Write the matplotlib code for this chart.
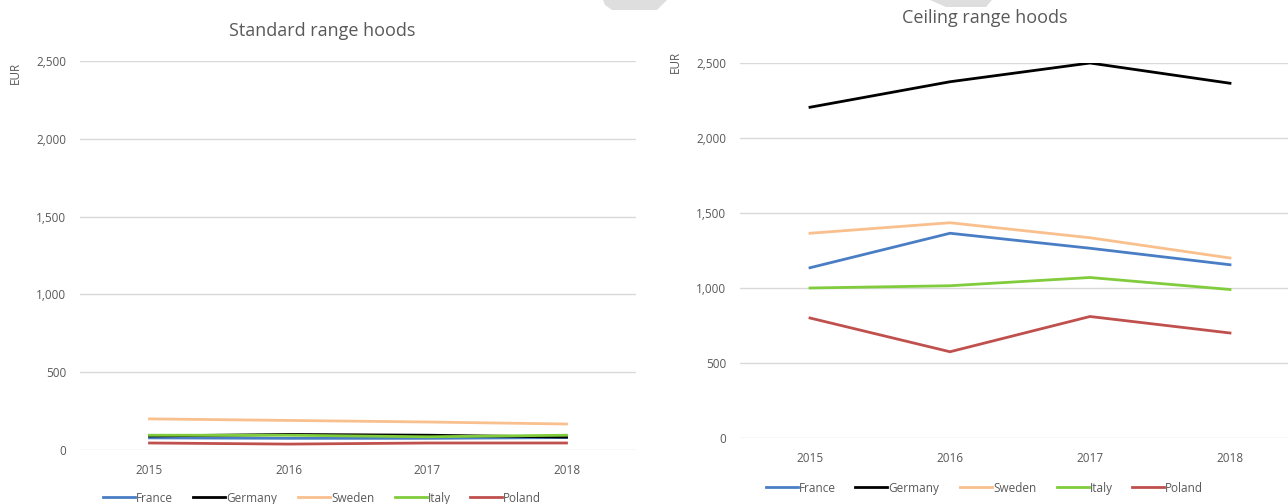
import matplotlib.pyplot as plt
from matplotlib.lines import Line2D
from matplotlib.patches import Polygon
from matplotlib.ticker import FuncFormatter

plt.rcParams['font.family'] = ['Open Sans', 'DejaVu Sans']

years = ["2015", "2016", "2017", "2018"]
countries = ["France", "Germany", "Sweden", "Italy", "Poland"]
colors = ["#4A7EC4", "#000000", "#F9C08E", "#80CC3C", "#C0504D"]

# Average prices, EUR
standard = {
    "France": [78, 75, 75, 80],
    "Germany": [90, 100, 95, 83],
    "Sweden": [200, 190, 180, 167],
    "Italy": [95, 95, 85, 95],
    "Poland": [45, 38, 45, 45],
}
ceiling = {
    "France": [1135, 1365, 1265, 1155],
    "Germany": [2205, 2375, 2500, 2365],
    "Sweden": [1365, 1435, 1335, 1200],
    "Italy": [1000, 1015, 1070, 990],
    "Poland": [800, 575, 810, 700],
}

W, H = 1288, 504
fig = plt.figure(figsize=(W / 100, H / 100), dpi=100)
grey = "#595959"


def fx(px):
    return px / W


def fy(py):
    return 1 - py / H


# faint grey shapes cut off at the top edge
for pts in [[(603, 0), (667, 0), (657, 10), (612, 10), (605, 5)],
            [(930, 0), (992, 0), (986, 7), (946, 7)]]:
    fig.patches.append(Polygon([(fx(x), fy(y)) for x, y in pts], closed=True,
                               transform=fig.transFigure, facecolor="#DEDEDE", edgecolor="none"))


def make_axes(px_left, px_right, px_top, px_bottom):
    ax = fig.add_axes([fx(px_left), fy(px_bottom), (px_right - px_left) / W, (px_bottom - px_top) / H])
    ax.set_xlim(-0.5, len(years) - 0.5)
    return ax


def style(ax):
    ax.set_ylim(0, 2500)
    ax.set_yticks(range(0, 2501, 500))
    ax.yaxis.set_major_formatter(FuncFormatter(lambda v, p: f"{int(v):,}"))
    ax.set_xticks(range(len(years)))
    ax.set_xticklabels(years)
    ax.grid(axis="y", color="#D9D9D9", linewidth=1)
    ax.set_axisbelow(True)
    for s in ax.spines.values():
        s.set_visible(False)
    ax.tick_params(length=0, labelsize=8.5, colors=grey)
    ax.tick_params(axis="y", pad=10)
    ax.tick_params(axis="x", pad=10)


ax1 = make_axes(80, 636, 61, 450)
ax2 = make_axes(740, 1300, 63, 438)

for ax, data in [(ax1, standard), (ax2, ceiling)]:
    style(ax)
    for c, col in zip(countries, colors):
        ax.plot(range(len(years)), data[c], color=col, linewidth=2.0)

fig.text(fx(322), fy(31), "Standard range hoods", ha="center", va="center", fontsize=13, color=grey)
fig.text(fx(985), fy(18), "Ceiling range hoods", ha="center", va="center", fontsize=13, color=grey)
fig.text(fx(15), fy(73), "EUR", rotation=90, ha="center", va="center", fontsize=8.5, color=grey)
fig.text(fx(675), fy(62), "EUR", rotation=90, ha="center", va="center", fontsize=8.5, color=grey)

# legends under each chart
legend_rows = [
    (497, [103, 193, 298, 395, 470]),
    (487, [766, 855, 960, 1057, 1132]),
]
for ly, starts in legend_rows:
    for x0, c, col in zip(starts, countries, colors):
        fig.add_artist(Line2D([fx(x0), fx(x0 + 32)], [fy(ly), fy(ly)], transform=fig.transFigure,
                              color=col, linewidth=2.0))
        fig.text(fx(x0 + 33), fy(ly), c, ha="left", va="center_baseline", fontsize=8.5, color=grey)

fig.savefig("out.png", dpi=100, facecolor="white")
